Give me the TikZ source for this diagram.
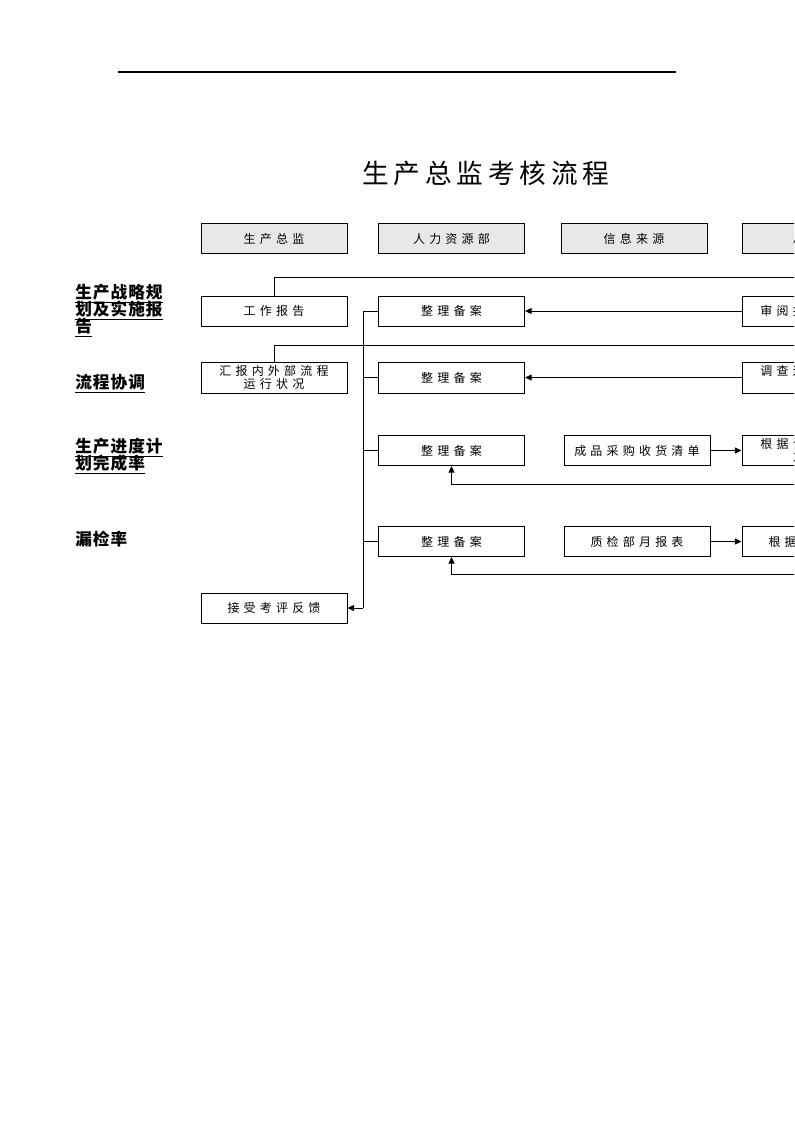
\documentclass[tikz,border=0pt]{standalone}
\usepackage{fontspec}
\newfontfamily\cjk{Noto Sans CJK SC}[LetterSpace=6]
\newfontfamily\cjksp{Noto Sans CJK SC}[LetterSpace=35]
\newfontfamily\cjktitle{Noto Sans CJK SC}[LetterSpace=18]
\newcommand\labfont{\cjk\bfseries\fontsize{12.5}{12.8}\selectfont\setlength{\lineskiplimit}{-20pt}\setlength{\lineskip}{0pt}}
\usetikzlibrary{arrows.meta}
\tikzset{
  box/.style={draw, line width=0.75pt, minimum width=109.5pt, minimum height=22.5pt,
    inner sep=0pt, align=center, font=\cjksp\fontsize{9}{10}\selectfont},
  head/.style={box, fill=gray!18},
  conn/.style={line width=0.75pt},
  arr/.style={conn, -{Triangle[length=5pt,width=4.5pt]}},
  lab/.style={anchor=north west, inner sep=0pt, align=left, font=\labfont}
}
\begin{document}
\begin{tikzpicture}[x=0.75pt,y=-0.75pt]
\useasboundingbox (0,0) rectangle (794,1123);
\clip (0,0) rectangle (794,1123);
% top rule
\draw[line width=1pt] (118,72) -- (676,72);
% title
\node[inner sep=0pt, font=\cjktitle\fontsize{20}{22}\selectfont] (title) at (486,173) {生产总监考核流程};
% headers
\node[head] (h1) at (274,238.5) {生产总监};
\node[head] (h2) at (451.5,238.5) {人力资源部};
\node[head] (h3) at (634,238.5) {信息来源};
\node[head] (h4) at (815,238.5) {总经理};
% left labels
\node[lab] (l1) at (75,284) {\underline{生产战略规}\\\underline{划及实施报}\\\underline{告}};
\node[lab] (l2) at (75,374) {\underline{流程协调}};
\node[lab] (l3) at (75,438) {\underline{生产进度计}\\\underline{划完成率}};
\node[lab] (l4) at (75,531) {漏检率};
% row 1
\node[box] (gz) at (274,311) {工作报告};
\node[box] (zl1) at (451.5,311) {整理备案};
\node[box] (r1) at (815,311) {审阅报告并批示};
% row 2
\node[box, minimum height=23.25pt] (hb) at (274,377.5) {汇报内外部流程\\运行状况};
\node[box, minimum height=23.25pt] (zl2) at (451.5,377.5) {整理备案};
\node[box, minimum height=23.25pt] (r2) at (815,377.5) {调查运行状况并\\评价};
% row 3
\node[box] (zl3) at (451.5,450.5) {整理备案};
\node[box] (cp) at (637,450.5) {成品采购收货清单};
\node[box] (r3) at (815,450.5) {根据计划核对完\\之情况};
% row 4
\node[box] (zl4) at (451.5,541.5) {整理备案};
\node[box] (zj) at (637,541.5) {质检部月报表};
\node[box] (r4) at (815,541.5) {根据报表核算};
% row 5
\node[box] (js) at (274,608) {接受考评反馈};
% connectors
\coordinate (e1) at (900,277);
\coordinate (e2) at (900,345);
\coordinate (e3) at (900,484);
\coordinate (e4) at (900,574);
\coordinate (b1) at (363,311);
\coordinate (b5) at (363,608);
\draw[conn] (gz.north) |- (e1);
\draw[conn] (hb.north) |- (e2);
\draw[arr] (r1.west) -- (zl1.east);
\draw[arr] (r2.west) -- (zl2.east);
\draw[arr] (cp.east) -- (r3.west);
\draw[arr] (zj.east) -- (r4.west);
\draw[arr] (e3) -| (zl3.south);
\draw[arr] (e4) -| (zl4.south);
\draw[conn] (zl1.west) -- (b1) -- (b5);
\draw[conn] (zl2.west) -- (zl2.west -| b1);
\draw[conn] (zl3.west) -- (zl3.west -| b1);
\draw[conn] (zl4.west) -- (zl4.west -| b1);
\draw[arr] (b5) -- (js.east);
\end{tikzpicture}
\end{document}
